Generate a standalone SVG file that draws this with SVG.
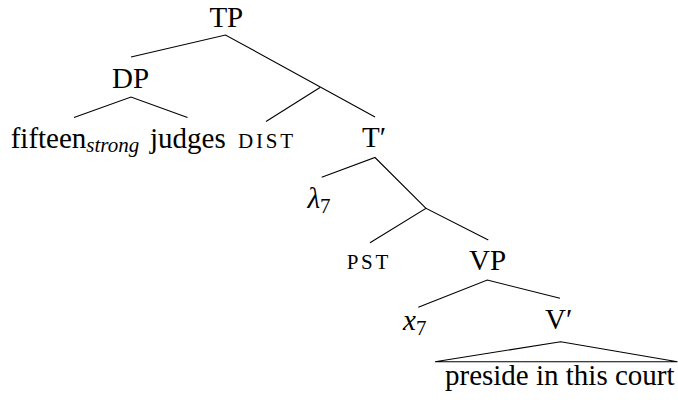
<svg xmlns="http://www.w3.org/2000/svg" width="678" height="400" viewBox="0 0 678 400">
<style>
text{font-family:"Liberation Serif","Times New Roman",serif;fill:#000}
.n{font-size:29px}
.sc{font-size:21px}
.sub{font-size:21px;font-style:italic}
.mi{font-size:29px;font-style:italic}
.d{font-size:21px}
.e{fill:none;stroke:#000;stroke-width:1.1}
</style>
<rect width="678" height="400" fill="#fff"/>
<g id="edges">
<path class="e" d="M131,57 L225.5,35 L375,117"/>
<path class="e" d="M320,87.5 L266,121.5"/>
<path class="e" d="M74,117.5 L131,97 L187.5,117.5"/>
<path class="e" d="M321.7,177.3 L375,157.5 L426,208.3"/>
<path class="e" d="M370,242.7 L426,208.3 L488.3,240"/>
<path class="e" d="M418.3,307.3 L487.3,280 L560,298.3"/>
<path class="e" d="M435,361.7 L560.7,341.7 L677.5,361.7 Z"/>
</g>
<g id="TP"><text class="n" x="226.3" y="26.5" text-anchor="middle">TP</text></g>
<g id="DP"><text class="n" x="130.5" y="88" text-anchor="middle">DP</text></g>
<g id="fifteen"><text class="n" x="10.7" y="147.5">fifteen<tspan class="sub" dy="4.5">strong</tspan></text></g>
<g id="judges"><text class="n" x="150" y="147.5">judges</text></g>
<g id="DIST"><text class="sc" x="238" y="147.5" textLength="55" lengthAdjust="spacing">DIST</text></g>
<g id="Tbar"><text class="n" x="362" y="146.7">T′</text></g>
<g id="lambda7"><text x="307.5" y="208.3"><tspan class="mi">λ</tspan><tspan class="d" dy="5">7</tspan></text></g>
<g id="PST"><text class="sc" x="346.7" y="269.3" textLength="41.6" lengthAdjust="spacing">PST</text></g>
<g id="VP"><text class="n" x="487.5" y="270" text-anchor="middle">VP</text></g>
<g id="x7"><text x="403" y="330"><tspan class="mi">x</tspan><tspan class="d" dy="5">7</tspan></text></g>
<g id="Vbar"><text class="n" x="545" y="328.5">V′</text></g>
<g id="leaf"><text class="n" x="445" y="385">preside in this court</text></g>
</svg>
